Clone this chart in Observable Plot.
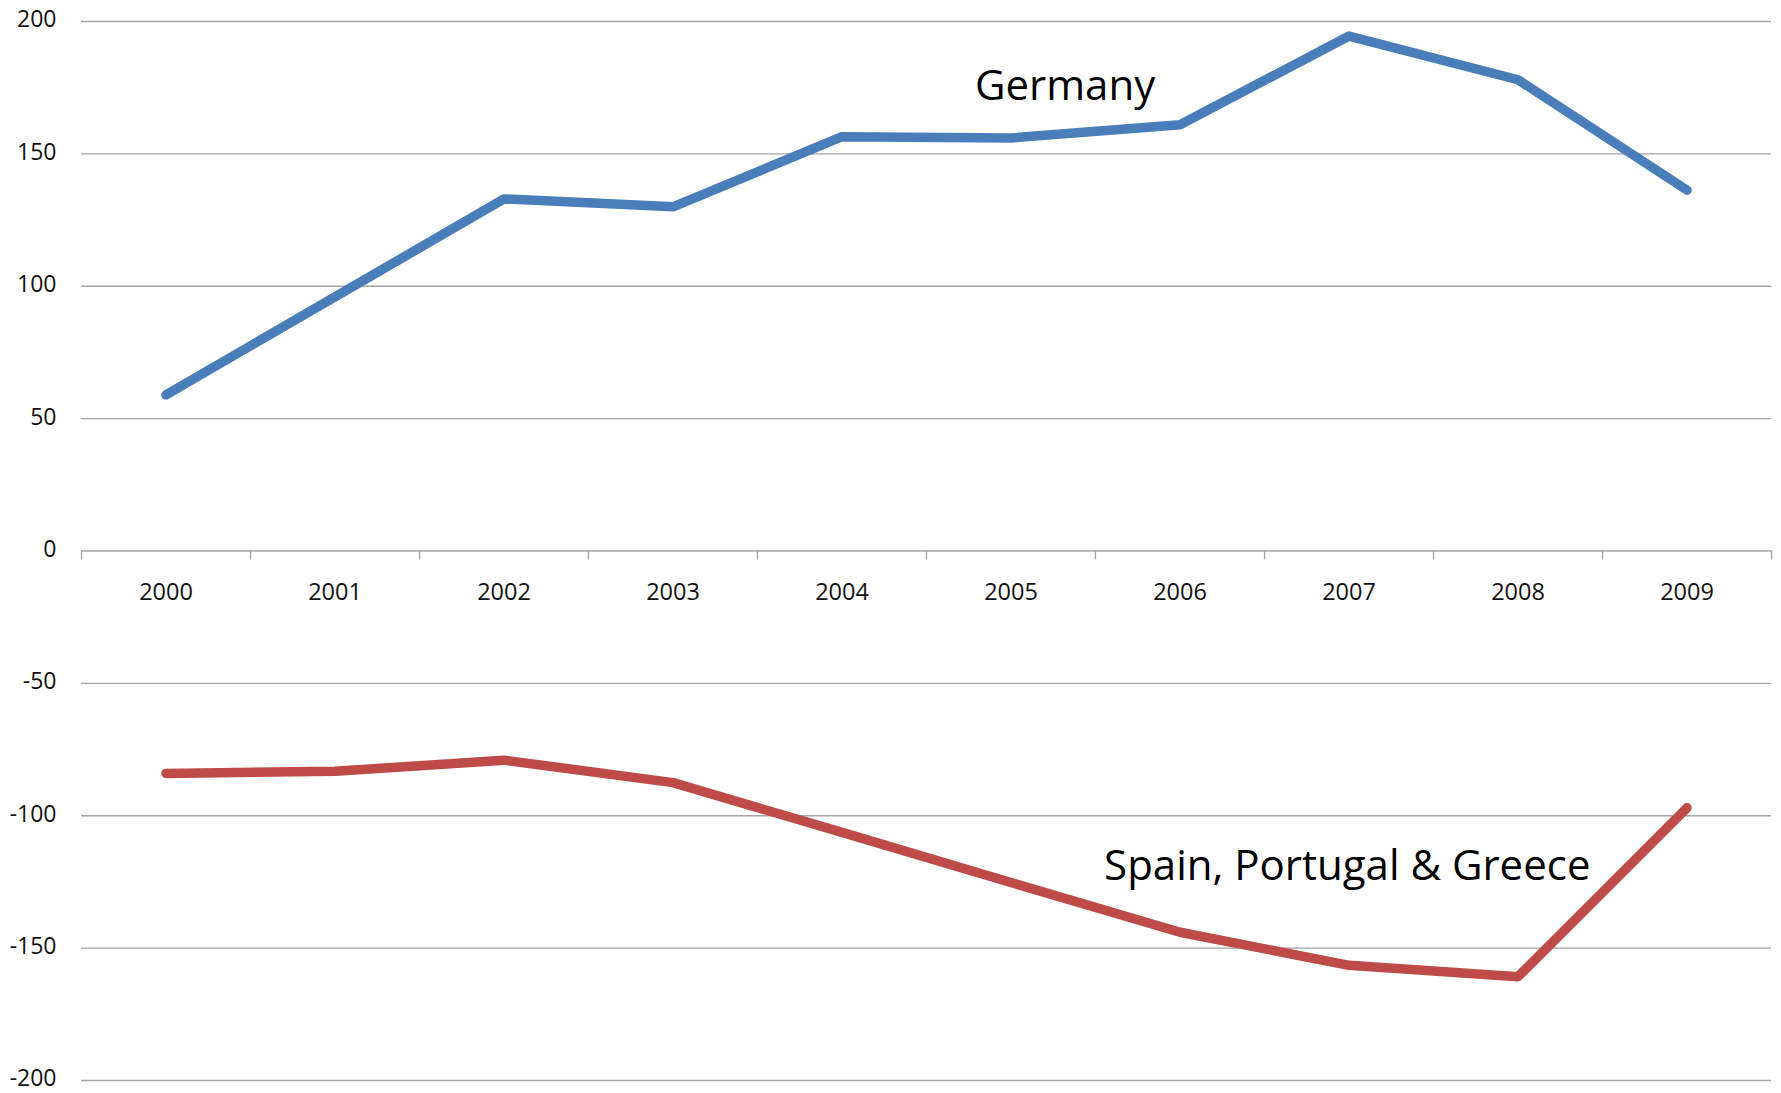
<!DOCTYPE html>
<html>
<head>
<meta charset="utf-8">
<script src="https://cdn.jsdelivr.net/npm/d3@7"></script>
<script src="https://cdn.jsdelivr.net/npm/@observablehq/plot@0.6"></script>
<style>
  html, body { margin: 0; padding: 0; background: #fff; }
  #chart svg { display: block; }
</style>
</head>
<body>
<div id="chart"></div>
<script>
const years = [2000, 2001, 2002, 2003, 2004, 2005, 2006, 2007, 2008, 2009];
const germany = [59, 96, 133, 130, 156.5, 156, 161, 194.5, 178, 136.3];
const southern = [-84, -83.2, -79, -87.5, -106.3, -125.2, -144, -156.5, -160.8, -97];
const yTicks = [-200, -150, -100, -50, 0, 50, 100, 150, 200];
const bandEdges = [1999.5, 2000.5, 2001.5, 2002.5, 2003.5, 2004.5, 2005.5, 2006.5, 2007.5, 2008.5, 2009.5];
const seriesLabels = ["Germany", "Spain, Portugal & Greece"];
const labelX = [2005.32, 2006.99];
const labelY = [175.5, -119.2];

const germanyData = years.map((y, i) => ({year: y, value: germany[i]}));
const southData = years.map((y, i) => ({year: y, value: southern[i]}));
const labels = seriesLabels.map((t, i) => ({text: t, x: labelX[i], y: labelY[i]}));

const chart = Plot.plot({
  width: 1781,
  height: 1093,
  marginLeft: 81,
  marginRight: 10,
  marginTop: 21,
  marginBottom: 13,
  x: {domain: [1999.5, 2009.5], axis: null},
  y: {domain: [-200, 200], axis: null},
  style: {fontFamily: "'Open Sans', sans-serif", background: "#fff", color: "#000"},
  marks: [
    Plot.gridY(yTicks, {stroke: "#a3a3a3", strokeOpacity: 1, strokeWidth: 1.3}),
    Plot.axisY(yTicks, {
      tickSize: 0, tickPadding: 25, fontSize: 23, dy: -1.5, fill: "#111",
      tickFormat: d => String(d), label: null
    }),
    Plot.ruleX(bandEdges, {y1: 0, y2: 0, insetBottom: -9, stroke: "#a3a3a3", strokeWidth: 1.3}),
    Plot.text(years, {x: d => d, y: 0, dy: 41, text: d => String(d), fontSize: 23.5, fill: "#111"}),
    Plot.line(germanyData, {x: "year", y: "value", stroke: "#4a7ebb", strokeWidth: 9.5, strokeLinecap: "round", strokeLinejoin: "round"}),
    Plot.line(southData, {x: "year", y: "value", stroke: "#be4b48", strokeWidth: 9.5, strokeLinecap: "round", strokeLinejoin: "round"}),
    Plot.text(labels, {x: "x", y: "y", text: "text", fontSize: 42, fill: "#000", textAnchor: "middle"})
  ]
});
document.getElementById("chart").appendChild(chart);
</script>
</body>
</html>
